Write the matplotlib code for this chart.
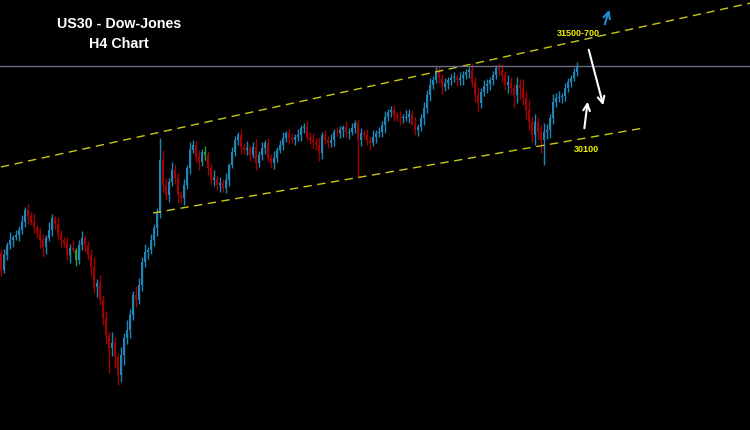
"""
US30 H4 candlestick chart with channel lines
"""
import matplotlib
matplotlib.use("Agg")
import matplotlib.pyplot as plt
import numpy as np

# closing prices, one per H4 candle (open = previous close)
closes = [
    28150, 28375, 28525, 28600, 28645, 28675, 28750, 28870, 29050, 28960,
    28870, 28795, 28705, 28600, 28495, 28630, 28750, 28930, 28840, 28675,
    28600, 28555, 28375, 28480, 28450, 28300, 28525, 28630, 28525, 28375,
    28195, 27895, 27955, 27700, 27430, 27175, 26980, 27055, 26845, 26575,
    26875, 27130, 27250, 27475, 27775, 27700, 27925, 28270, 28420, 28450,
    28600, 28780, 29005, 29800, 29425, 29275, 29470, 29650, 29530, 29275,
    29230, 29425, 29680, 29950, 30025, 29845, 29770, 29920, 29875, 29680,
    29500, 29530, 29425, 29455, 29380, 29500, 29725, 29920, 30100, 30175,
    29995, 29950, 29980, 29875, 29995, 29755, 29875, 29980, 30055, 29830,
    29755, 29830, 29950, 30025, 30130, 30205, 30130, 30100, 30145, 30175,
    30280, 30295, 30145, 30100, 30070, 30025, 29905, 30175, 30100, 30055,
    30100, 30220, 30205, 30250, 30295, 30205, 30220, 30280, 30355, 30100,
    30205, 30175, 30100, 30055, 30145, 30205, 30220, 30325, 30445, 30520,
    30550, 30475, 30445, 30430, 30430, 30445, 30490, 30325, 30250, 30295,
    30430, 30580, 30775, 30925, 31000, 31120, 31030, 30895, 30955, 31000,
    31030, 31045, 31000, 31030, 31075, 31120, 31150, 30970, 30775, 30655,
    30820, 30910, 30940, 31000, 31075, 31180, 31150, 31075, 30925, 30970,
    30880, 30775, 30925, 30880, 30730, 30550, 30370, 30175, 30370, 30220,
    30100, 30220, 30250, 30430, 30670, 30730, 30745, 30760, 30880, 30970,
    31030, 31120, 31210,
]
first_open = 28400

# wick lengths above / below the body, in points
upper_wick = [
    60, 90, 45, 120, 30, 75, 60, 105, 45, 90,
    60, 135, 30, 75, 90, 45, 120, 60, 30, 105,
    75, 45, 90, 60, 120, 30, 75, 105, 45, 60,
    90, 150, 60, 120, 75, 105, 45, 165, 90, 60,
    120, 75, 150, 90, 60, 135, 105, 75, 120, 45,
    90, 60, 75, 0, 150, 105, 60, 120, 90, 75,
    60, 90, 45, 120, 75, 60, 105, 45, 90, 60,
    75, 120, 45, 90, 60, 105, 30, 75, 60, 45,
    90, 60, 105, 45, 75, 120, 60, 90, 45, 75,
    60, 105, 45, 75, 90, 30, 60, 75, 45, 90,
    45, 60, 90, 75, 105, 60, 120, 45, 75, 60,
    90, 45, 75, 60, 30, 90, 60, 75, 45, 60,
    75, 45, 90, 60, 105, 45, 75, 60, 90, 45,
    60, 75, 45, 90, 60, 105, 75, 60, 120, 45,
    60, 90, 75, 105, 60, 30, 90, 60, 75, 45,
    60, 75, 45, 90, 60, 45, 30, 105, 75, 120,
    60, 90, 75, 45, 60, 30, 75, 90, 60, 105,
    75, 60, 120, 90, 135, 105, 150, 90, 120, 75,
    105, 135, 90, 60, 120, 75, 90, 45, 75, 60,
    45, 60, 0,
]
lower_wick = [
    90, 45, 75, 60, 105, 45, 90, 60, 75, 120,
    45, 90, 75, 120, 60, 105, 45, 90, 75, 60,
    105, 60, 75, 120, 45, 90, 60, 75, 105, 60,
    120, 90, 150, 75, 105, 135, 90, 120, 165, 0,
    105, 150, 90, 120, 75, 105, 60, 90, 75, 105,
    60, 90, 120, 0, 120, 75, 105, 60, 90, 120,
    75, 105, 60, 90, 45, 75, 120, 60, 75, 105,
    60, 90, 75, 105, 60, 75, 90, 45, 60, 75,
    105, 60, 75, 90, 45, 105, 60, 75, 90, 60,
    75, 90, 60, 45, 75, 60, 90, 45, 75, 60,
    90, 75, 45, 60, 105, 75, 120, 90, 60, 75,
    60, 90, 45, 75, 105, 60, 90, 45, 75, 0,
    90, 60, 75, 105, 45, 90, 60, 75, 120, 60,
    75, 90, 60, 105, 75, 45, 90, 0, 75, 90,
    60, 105, 75, 90, 60, 45, 75, 105, 60, 90,
    75, 60, 90, 75, 105, 60, 90, 75, 105, 120,
    75, 60, 105, 90, 75, 60, 90, 105, 75, 120,
    90, 150, 120, 165, 105, 135, 120, 0, 150, 105,
    0, 0, 105, 120, 90, 75, 60, 90, 75, 60,
    75, 45, 60,
]

# long spikes: candle index -> extreme price
spike_idx = [8, 14, 36, 39, 53, 53, 119, 137, 145, 156, 165, 171, 177, 180, 181, 192]
spike_px = [29080, 28345, 26605, 26425, 30130, 28930, 29530, 30550, 31195, 31195,
            31225, 30580, 30070, 29905, 29725, 31270]

doji_idx = [25, 68]

# channel lines (candle index, price)
upper_line = ([0, 250], [29695, 32155])
lower_line = ([50.7, 214.3], [29005, 30280])
last_price = 31210

title_lines = ["US30 - Dow-Jones", "H4 Chart"]
target_up = "31500-700"
target_down = "30100"

BLUE = "#1f86b8"
RED = "#a30000"
YELLOW = "#c8c818"

fig = plt.figure(figsize=(7.5, 4.3), dpi=100, facecolor="black")
ax = fig.add_axes([0, 0, 1, 1], facecolor="black")

closes = np.array(closes, dtype=float)
opens = np.concatenate([[first_open], closes[:-1]])
highs = np.maximum(opens, closes) + np.array(upper_wick)
lows = np.minimum(opens, closes) - np.array(lower_wick)
for i, p in zip(spike_idx, spike_px):
    highs[i] = max(highs[i], p)
    lows[i] = min(lows[i], p)

x = np.arange(len(closes))
colors = np.where(closes >= opens, BLUE, RED).astype(object)
for i in doji_idx:
    colors[i] = "#2ca02c"

ax.vlines(x, lows, highs, colors=colors, linewidth=1)
body = np.maximum(np.abs(closes - opens), 15)
ax.bar(x, body, bottom=np.minimum(opens, closes), width=0.9, color=colors,
       linewidth=0)

ax.plot(*upper_line, color=YELLOW, lw=1, dashes=(6, 4))
ax.plot(*lower_line, color=YELLOW, lw=1, dashes=(6, 4))
ax.axhline(last_price, color="#6a6e88", lw=1)

ax.set_xlim(-0.3, 249.7)
ax.set_ylim(25750, 32200)
ax.axis("off")


def px(xp, yp):
    return xp / 750, 1 - yp / 430


fnt = "Liberation Sans"
ax.text(*px(119, 24), title_lines[0], transform=ax.transAxes, color="white",
        fontsize=10.3, fontweight="bold", family=fnt, ha="center", va="center")
ax.text(*px(119, 44), title_lines[1], transform=ax.transAxes, color="white",
        fontsize=10.3, fontweight="bold", family=fnt, ha="center", va="center")
ax.text(*px(578, 33), target_up, transform=ax.transAxes, color="#f0f000",
        fontsize=6.5, fontweight="bold", family=fnt, ha="center", va="center")
ax.text(*px(586, 149), target_down, transform=ax.transAxes, color="#f0f000",
        fontsize=6.5, fontweight="bold", family=fnt, ha="center", va="center")

arrow = dict(arrowstyle="->", lw=1.5, mutation_scale=12)
ax.annotate("", xy=px(604, 108), xytext=px(588, 47), xycoords="axes fraction",
            arrowprops=dict(arrow, color="white"))
ax.annotate("", xy=px(588, 99), xytext=px(584, 131), xycoords="axes fraction",
            arrowprops=dict(arrow, color="white"))
ax.annotate("", xy=px(610, 7), xytext=px(604, 27), xycoords="axes fraction",
            arrowprops=dict(arrow, color="#1e90d8"))

fig.savefig("out.png", dpi=100, facecolor="black")
